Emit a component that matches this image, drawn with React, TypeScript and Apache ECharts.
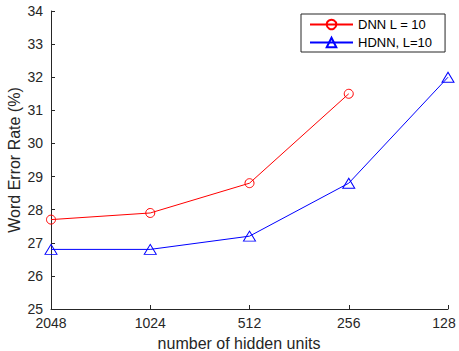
import React, { useEffect, useRef } from "react";
import * as echarts from "echarts";

const categories = ["2048", "1024", "512", "256", "128"];
const dnnValues: (number | null)[] = [27.7, 27.9, 28.8, 31.5, null];
const hdnnValues = [26.8, 26.8, 27.2, 28.8, 32.0];
const dnnName = "DNN L = 10";
const hdnnName = "HDNN, L=10";

const FONT = "'Liberation Sans', Arial, Helvetica, sans-serif";
const AXIS = "#262626";

export default function App() {
  const ref = useRef<HTMLDivElement>(null);
  useEffect(() => {
    const chart = echarts.init(ref.current!, null, { renderer: "svg" });
    const lastCat = categories[categories.length - 1];
    chart.setOption({
      animation: false,
      backgroundColor: "#ffffff",
      textStyle: { fontFamily: FONT },
      grid: { left: 51, right: 11, top: 11, bottom: 42, containLabel: false, outerBoundsMode: "none" },
      legend: {
        orient: "vertical",
        left: 301,
        top: 14,
        padding: [4, 13, 3, 8],
        itemWidth: 43,
        itemHeight: 12,
        itemGap: 5,
        backgroundColor: "#ffffff",
        borderColor: AXIS,
        borderWidth: 1,
        textStyle: { fontFamily: FONT, fontSize: 13, color: "#000000" },
        data: [dnnName, hdnnName],
      },
      xAxis: {
        type: "category",
        data: categories,
        boundaryGap: false,
        name: "number of hidden units",
        nameLocation: "middle",
        nameGap: 26,
        nameMoveOverlap: false,
        nameTextStyle: { fontFamily: FONT, fontSize: 16, color: "#262626", padding: [0, 21, 0, 0] },
        axisLine: { show: true, lineStyle: { color: AXIS, width: 1 } },
        axisTick: { show: true, inside: true, length: 4, alignWithLabel: true, lineStyle: { color: AXIS } },
        axisLabel: {
          fontFamily: FONT,
          fontSize: 14,
          color: "#262626",
          margin: 7,
          interval: 0,
          formatter: (v: string) => (v === lastCat ? "{r|" + v + "}" : v),
          rich: { r: { fontFamily: FONT, fontSize: 14, color: "#262626", padding: [0, 8, 0, 0] } },
        },
        splitLine: { show: false },
      },
      yAxis: {
        type: "value",
        min: 25,
        max: 34,
        interval: 1,
        name: "Word Error Rate (%)",
        nameLocation: "middle",
        nameGap: 29,
        nameMoveOverlap: false,
        nameTextStyle: { fontFamily: FONT, fontSize: 16, color: "#262626" },
        axisLine: { show: true, lineStyle: { color: AXIS, width: 1 } },
        axisTick: { show: true, inside: true, length: 4, lineStyle: { color: AXIS } },
        axisLabel: { fontFamily: FONT, fontSize: 14, color: "#262626", margin: 8 },
        splitLine: { show: false },
      },
      series: [
        {
          name: dnnName,
          type: "line",
          data: dnnValues,
          symbol: "circle",
          symbolSize: 9,
          showAllSymbol: true,
          color: "#ff0000",
          lineStyle: { color: "#ff0000", width: 1 },
          itemStyle: { color: "rgba(255,255,255,0)", borderColor: "#ff0000", borderWidth: 1 },
        },
        {
          name: hdnnName,
          type: "line",
          data: hdnnValues,
          symbol: "triangle",
          symbolSize: [12, 10],
          showAllSymbol: true,
          color: "#0000ff",
          lineStyle: { color: "#0000ff", width: 1 },
          itemStyle: { color: "rgba(255,255,255,0)", borderColor: "#0000ff", borderWidth: 1 },
        },
      ],
    });
    return () => chart.dispose();
  }, []);
  return <div ref={ref} style={{ position: "fixed", left: 0, top: 0, width: 459, height: 351 }} />;
}
